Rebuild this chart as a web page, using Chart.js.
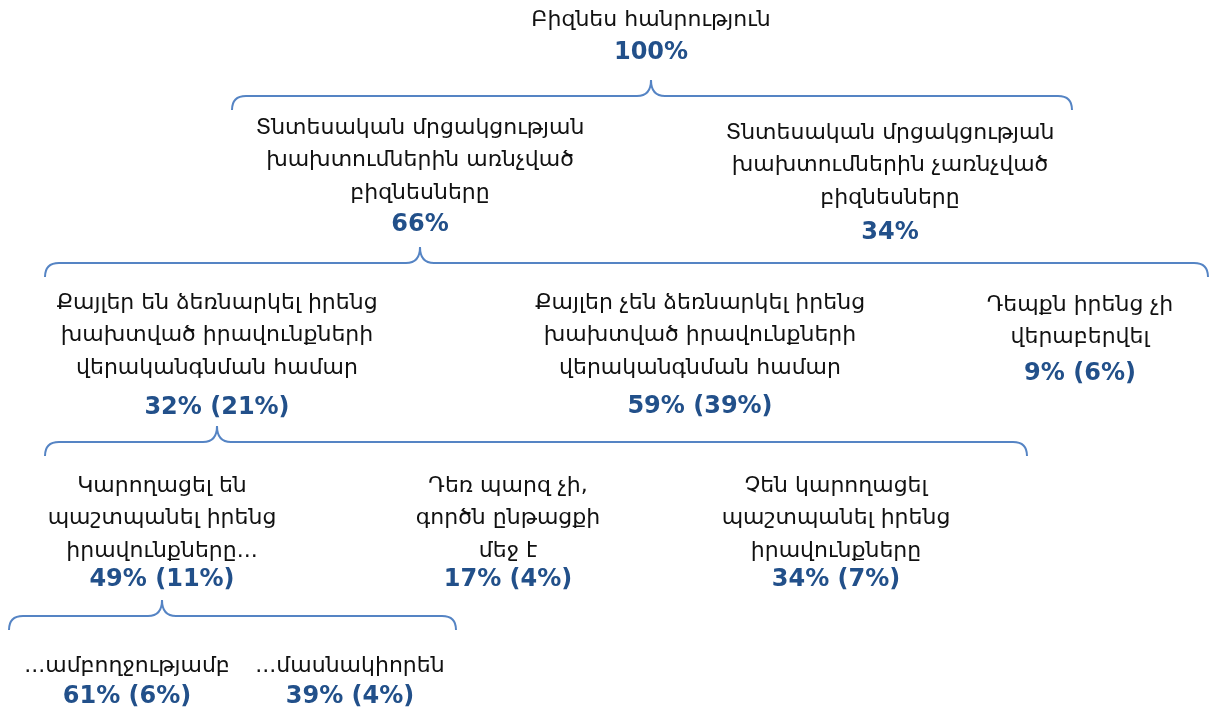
<!DOCTYPE html>
<html>
<head>
<meta charset="utf-8">
<script src="https://cdn.jsdelivr.net/npm/chart.js@4"></script>
<style>
  html, body { margin: 0; padding: 0; background: #fff; }
  #wrap { width: 1211px; height: 714px; }
</style>
</head>
<body>
<div id="wrap"><canvas id="tree" width="1211" height="714"></canvas></div>
<script>
// node texts, shares within the parent and shares of all businesses
const names = [
  'Բիզնես հանրություն',
  'Տնտեսական մրցակցության\nխախտումներին առնչված\nբիզնեսները',
  'Տնտեսական մրցակցության\nխախտումներին չառնչված\nբիզնեսները',
  'Քայլեր են ձեռնարկել իրենց\nխախտված իրավունքների\nվերականգնման համար',
  'Քայլեր չեն ձեռնարկել իրենց\nխախտված իրավունքների\nվերականգնման համար',
  'Դեպքն իրենց չի\nվերաբերվել',
  'Կարողացել են\nպաշտպանել իրենց\nիրավունքները...',
  'Դեռ պարզ չի,\nգործն ընթացքի\nմեջ է',
  'Չեն կարողացել\nպաշտպանել իրենց\nիրավունքները',
  '...ամբողջությամբ',
  '...մասնակիորեն'
];
const share = [100, 66, 34, 32, 59, 9, 49, 17, 34, 61, 39];
const ofTotal = [null, null, null, 21, 39, 6, 11, 4, 7, 6, 4];
const parent = [-1, 0, 0, 1, 1, 1, 3, 3, 3, 6, 6];

// layout (pixel-like units on the hidden axes)
const nodeX = [651, 420, 890, 217, 700, 1080, 162, 508, 836, 127, 350];
const nodeTop = [20, 128, 133, 303, 303, 305, 486, 486, 486, 666, 666];
const pctY = [53, 225, 233, 408, 407, 374, 580, 580, 580, 697, 697];
// braces: [parent node, left end, right end, line y]
const braces = [
  [0, 232, 1072, 96],
  [1, 45, 1208, 263],
  [3, 45, 1027, 442],
  [6, 9, 456, 616]
];

const lineGap = 32.5;

function pctLabel(i) {
  return ofTotal[i] === null ? share[i] + '%' : share[i] + '% (' + ofTotal[i] + '%)';
}

const treePlugin = {
  id: 'treeText',
  afterDatasetsDraw(chart) {
    const ctx = chart.ctx;
    const sx = chart.scales.x, sy = chart.scales.y;
    ctx.save();
    // braces
    ctx.strokeStyle = '#5584C4';
    ctx.lineWidth = 2;
    braces.forEach(([p, l, r, y]) => {
      const tip = sx.getPixelForValue(nodeX[p]);
      const xl = sx.getPixelForValue(l), xr = sx.getPixelForValue(r);
      const py = sy.getPixelForValue(y);
      const c = 14;
      ctx.beginPath();
      ctx.moveTo(xl, py + c);
      ctx.quadraticCurveTo(xl, py, xl + c, py);
      ctx.lineTo(tip - c, py);
      ctx.quadraticCurveTo(tip, py, tip, py - 16);
      ctx.quadraticCurveTo(tip, py, tip + c, py);
      ctx.lineTo(xr - c, py);
      ctx.quadraticCurveTo(xr, py, xr, py + c);
      ctx.stroke();
    });
    // texts
    const meta = chart.getDatasetMeta(0);
    ctx.textAlign = 'center';
    ctx.textBaseline = 'middle';
    meta.data.forEach((pt, i) => {
      ctx.fillStyle = '#111';
      ctx.font = '22px "DejaVu Sans"';
      names[i].split('\n').forEach((line, k) => {
        ctx.fillText(line, pt.x, pt.y + k * lineGap);
      });
      ctx.fillStyle = '#22508A';
      ctx.font = 'bold 24px "DejaVu Sans"';
      ctx.fillText(pctLabel(i), pt.x, sy.getPixelForValue(pctY[i]));
    });
    ctx.restore();
  }
};

new Chart(document.getElementById('tree'), {
  type: 'scatter',
  data: {
    datasets: [{
      data: nodeX.map((x, i) => ({x: x, y: nodeTop[i]})),
      pointRadius: 0,
      pointHoverRadius: 0
    }]
  },
  options: {
    responsive: false,
    animation: false,
    events: [],
    layout: {padding: 0},
    plugins: {legend: {display: false}, tooltip: {enabled: false}},
    scales: {
      x: {type: 'linear', min: 0, max: 1211, display: false},
      y: {type: 'linear', min: 0, max: 714, reverse: true, display: false}
    }
  },
  plugins: [treePlugin]
});
</script>
</body>
</html>
